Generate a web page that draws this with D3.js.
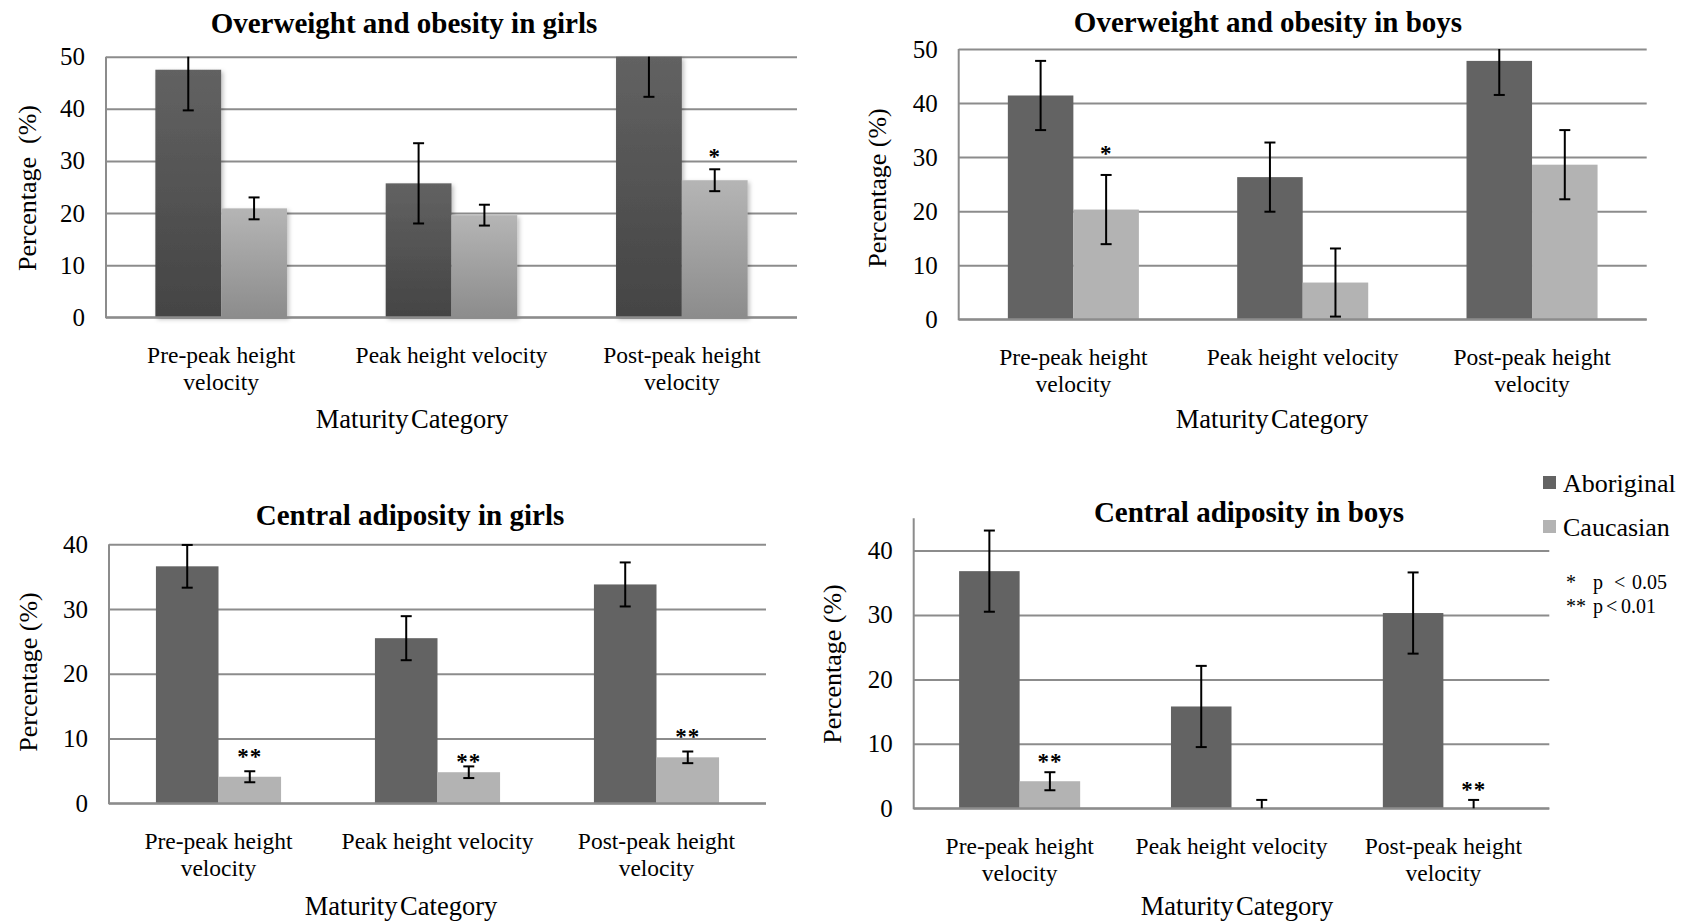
<!DOCTYPE html>
<html>
<head>
<meta charset="utf-8">
<script src="https://cdn.jsdelivr.net/npm/d3@7"></script>
<style>
  html, body { margin: 0; padding: 0; background: #fff; }
  svg { display: block; }
  text { font-family: "Liberation Serif", "Times New Roman", serif; fill: #000; }
</style>
</head>
<body>
<svg id="chart" width="1683" height="923"></svg>
<script>
// ---- data ----
const categories = ["Pre-peak height velocity", "Peak height velocity", "Post-peak height velocity"];
const categoryLines = [["Pre-peak height", "velocity"], ["Peak height velocity"], ["Post-peak height", "velocity"]];
const seriesNames = ["Aboriginal", "Caucasian"];

// Overweight and obesity in girls (%)
const girlsOverweightAboriginal = [47.5, 25.7, 50.0];
const girlsOverweightAboriginalErr = [7.8, 7.7, 7.7];
const girlsOverweightCaucasian = [20.9, 19.6, 26.3];
const girlsOverweightCaucasianErr = [2.1, 2.0, 2.1];
const girlsOverweightSig = ["", "", "*"];
const girlsOverweightSigAt = [0, 0, 31.7];

// Overweight and obesity in boys (%)
const boysOverweightAboriginal = [41.4, 26.3, 47.8];
const boysOverweightAboriginalErr = [6.4, 6.4, 6.3];
const boysOverweightCaucasian = [20.3, 6.8, 28.6];
const boysOverweightCaucasianErr = [6.4, 6.3, 6.4];
const boysOverweightSig = ["*", "", ""];
const boysOverweightSigAt = [31.5, 0, 0];

// Central adiposity in girls (%)
const girlsCentralAboriginal = [36.6, 25.5, 33.8];
const girlsCentralAboriginalErr = [3.3, 3.4, 3.4];
const girlsCentralCaucasian = [4.1, 4.8, 7.1];
const girlsCentralCaucasianErr = [0.85, 0.9, 0.9];
const girlsCentralSig = ["**", "**", "**"];
const girlsCentralSigAt = [8.0, 7.15, 11.0];

// Central adiposity in boys (%)
const boysCentralAboriginal = [36.8, 15.8, 30.3];
const boysCentralAboriginalErr = [6.3, 6.3, 6.3];
const boysCentralCaucasian = [4.2, 0, 0];
const boysCentralCaucasianErr = [1.4, 1.3, 1.3];
const boysCentralSig = ["**", "", "**"];
const boysCentralSigAt = [8.0, 0, 3.6];

const ticks50 = [0, 10, 20, 30, 40, 50];
const ticks40 = [0, 10, 20, 30, 40];

const colors = { Aboriginal: "#636363", Caucasian: "#b3b3b3" };
const FONT = '"Liberation Serif", "Times New Roman", serif';

// ---- panels ----
const panels = [
  {
    title: "Overweight and obesity in girls",
    yTitle: "Percentage  (%)",
    ab: girlsOverweightAboriginal, abErr: girlsOverweightAboriginalErr,
    ca: girlsOverweightCaucasian, caErr: girlsOverweightCaucasianErr,
    sig: girlsOverweightSig, sigAt: girlsOverweightSigAt,
    yMax: 50, ticks: ticks50, gradient: true,
    x0: 106, x1: 797, yTop: 56.7, yBot: 317.3,
    titleX: 404, titleY: 33, yTitleX: 27, yTitleY: 188, xTitleX: 412, xTitleY: 428
  },
  {
    title: "Overweight and obesity in boys",
    yTitle: "Percentage (%)",
    ab: boysOverweightAboriginal, abErr: boysOverweightAboriginalErr,
    ca: boysOverweightCaucasian, caErr: boysOverweightCaucasianErr,
    sig: boysOverweightSig, sigAt: boysOverweightSigAt,
    yMax: 50, ticks: ticks50, gradient: false,
    x0: 958.7, x1: 1646.7, yTop: 49, yBot: 319.3,
    titleX: 1268, titleY: 32, yTitleX: 877, yTitleY: 188, xTitleX: 1272, xTitleY: 428
  },
  {
    title: "Central adiposity in girls",
    yTitle: "Percentage (%)",
    ab: girlsCentralAboriginal, abErr: girlsCentralAboriginalErr,
    ca: girlsCentralCaucasian, caErr: girlsCentralCaucasianErr,
    sig: girlsCentralSig, sigAt: girlsCentralSigAt,
    yMax: 40, ticks: ticks40, gradient: false,
    x0: 109, x1: 766, yTop: 544.3, yBot: 803.3,
    titleX: 410, titleY: 525, yTitleX: 28, yTitleY: 672, xTitleX: 401, xTitleY: 915
  },
  {
    title: "Central adiposity in boys",
    yTitle: "Percentage (%)",
    ab: boysCentralAboriginal, abErr: boysCentralAboriginalErr,
    ca: boysCentralCaucasian, caErr: boysCentralCaucasianErr,
    sig: boysCentralSig, sigAt: boysCentralSigAt,
    yMax: 45, ticks: ticks40, gradient: false,
    x0: 913.7, x1: 1549.3, yTop: 518.3, yBot: 808.3,
    titleX: 1249, titleY: 522, yTitleX: 832, yTitleY: 664, xTitleX: 1237, xTitleY: 915
  }
];

const svg = d3.select("#chart");
const defs = svg.append("defs");

// gradients and shadow used by the first panel
const gAb = defs.append("linearGradient").attr("id", "gradAb").attr("x1", 0).attr("y1", 0).attr("x2", 0).attr("y2", 1);
gAb.append("stop").attr("offset", "0%").attr("stop-color", "#626262");
gAb.append("stop").attr("offset", "100%").attr("stop-color", "#444444");
const gCa = defs.append("linearGradient").attr("id", "gradCa").attr("x1", 0).attr("y1", 0).attr("x2", 0).attr("y2", 1);
gCa.append("stop").attr("offset", "0%").attr("stop-color", "#b5b5b5");
gCa.append("stop").attr("offset", "100%").attr("stop-color", "#8c8c8c");
const shadow = defs.append("filter").attr("id", "barShadow").attr("x", "-10%").attr("y", "-10%").attr("width", "130%").attr("height", "130%");
shadow.append("feDropShadow").attr("dx", 2).attr("dy", 2).attr("stdDeviation", 2).attr("flood-color", "#000").attr("flood-opacity", 0.25);

panels.forEach(p => {
  const g = svg.append("g");

  const x = d3.scaleBand().domain(categories).range([p.x0, p.x1])
    .paddingInner(0.4286).paddingOuter(0.2143);
  const xs = d3.scaleBand().domain(seriesNames).range([0, x.bandwidth()]);
  const y = d3.scaleLinear().domain([0, p.yMax]).range([p.yBot, p.yTop]);

  // gridlines + tick labels
  const axis = d3.axisLeft(y).tickValues(p.ticks).tickSize(-(p.x1 - p.x0)).tickPadding(21);
  const ax = g.append("g").attr("transform", `translate(${p.x0},0)`).call(axis);
  ax.select(".domain").remove();
  ax.selectAll(".tick line").attr("stroke", "#8c8c8c").attr("stroke-width", 2);
  ax.selectAll(".tick text").attr("font-family", FONT).attr("font-size", 25).attr("fill", "#000");

  // vertical axis line
  g.append("line")
    .attr("x1", p.x0).attr("x2", p.x0)
    .attr("y1", y(p.yMax)).attr("y2", y(0) + 1)
    .attr("stroke", "#8c8c8c").attr("stroke-width", 2);

  // bars
  const rows = categories.map((c, i) => [
    { cat: c, s: "Aboriginal", v: p.ab[i], e: p.abErr[i] },
    { cat: c, s: "Caucasian", v: p.ca[i], e: p.caErr[i] }
  ]).flat();

  g.append("g")
    .attr("filter", p.gradient ? "url(#barShadow)" : null)
    .selectAll("rect").data(rows).join("rect")
    .attr("x", d => x(d.cat) + xs(d.s))
    .attr("width", xs.bandwidth())
    .attr("y", d => y(d.v))
    .attr("height", d => y(0) - y(d.v))
    .attr("fill", d => p.gradient ? (d.s === "Aboriginal" ? "url(#gradAb)" : "url(#gradCa)") : colors[d.s]);

  // baseline on top of bars
  g.append("line")
    .attr("x1", p.x0).attr("x2", p.x1)
    .attr("y1", y(0)).attr("y2", y(0))
    .attr("stroke", "#8c8c8c").attr("stroke-width", 2);

  // error bars (ends outside the value axis are cut off, without caps)
  const capW = 11;
  const eb = g.append("g").attr("stroke", "#000").attr("stroke-width", 2).attr("fill", "none");
  rows.forEach(d => {
    const cx = x(d.cat) + xs(d.s) + xs.bandwidth() / 2;
    const hi = d.v + d.e, lo = d.v - d.e;
    const hiC = Math.min(hi, p.yMax), loC = Math.max(lo, 0);
    eb.append("line").attr("x1", cx).attr("x2", cx).attr("y1", y(hiC)).attr("y2", y(loC));
    if (hi <= p.yMax) eb.append("line").attr("x1", cx - capW / 2).attr("x2", cx + capW / 2).attr("y1", y(hi)).attr("y2", y(hi));
    if (lo >= 0) eb.append("line").attr("x1", cx - capW / 2).attr("x2", cx + capW / 2).attr("y1", y(lo)).attr("y2", y(lo));
  });

  // significance marks over the Caucasian bars
  categories.forEach((c, i) => {
    if (!p.sig[i]) return;
    g.append("text")
      .attr("x", x(c) + xs("Caucasian") + xs.bandwidth() / 2)
      .attr("y", y(p.sigAt[i]) + 12)
      .attr("text-anchor", "middle")
      .attr("font-size", 23).attr("font-weight", "bold")
      .attr("letter-spacing", 1)
      .text(p.sig[i]);
  });

  // category labels
  categories.forEach((c, i) => {
    const t = g.append("text")
      .attr("text-anchor", "middle")
      .attr("font-size", 23.5);
    categoryLines[i].forEach((line, k) => {
      t.append("tspan").attr("x", x(c) + x.bandwidth() / 2).attr("y", p.yBot + 46 + k * 27).text(line);
    });
  });

  // axis titles
  g.append("text")
    .attr("x", p.xTitleX).attr("y", p.xTitleY)
    .attr("text-anchor", "middle").attr("font-size", 26.5)
    .attr("word-spacing", -4)
    .text("Maturity Category");

  g.append("text")
    .attr("transform", `translate(${p.yTitleX},${p.yTitleY}) rotate(-90)`)
    .attr("text-anchor", "middle").attr("dominant-baseline", "central")
    .attr("font-size", 26).style("white-space", "pre")
    .text(p.yTitle);

  // chart title
  g.append("text")
    .attr("x", p.titleX).attr("y", p.titleY)
    .attr("text-anchor", "middle").attr("font-size", 29).attr("font-weight", "bold")
    .text(p.title);
});

// legend
const legend = svg.append("g");
const legendY = [492, 536];
seriesNames.forEach((s, i) => {
  legend.append("rect")
    .attr("x", 1543).attr("y", legendY[i] - 16).attr("width", 13).attr("height", 13)
    .attr("fill", colors[s]);
  legend.append("text")
    .attr("x", 1563).attr("y", legendY[i])
    .attr("font-size", 26)
    .text(s);
});

// significance key
const key = [
  { mark: "*", rel: "<", val: "0.05", y: 589, relX: 1614, valX: 1632 },
  { mark: "**", rel: "<", val: "0.01", y: 613, relX: 1606, valX: 1621 }
];
key.forEach(k => {
  const t = legend.append("text").attr("y", k.y).attr("font-size", 20);
  t.append("tspan").attr("x", 1566).text(k.mark);
  t.append("tspan").attr("x", 1593).text("p");
  t.append("tspan").attr("x", k.relX).text(k.rel);
  t.append("tspan").attr("x", k.valX).text(k.val);
});
</script>
</body>
</html>
